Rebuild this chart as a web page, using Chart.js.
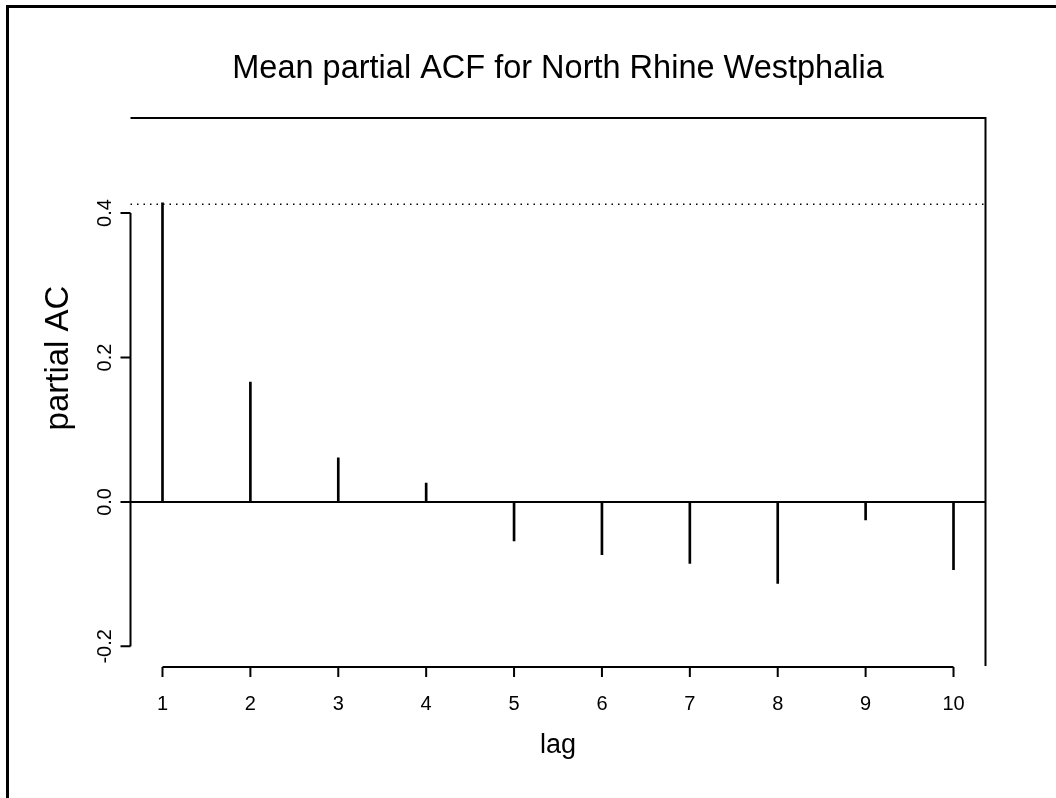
<!DOCTYPE html>
<html>
<head>
<meta charset="utf-8">
<script src="https://cdn.jsdelivr.net/npm/chart.js@4.4.0/dist/chart.umd.min.js"></script>
<style>
  body { margin: 0; background: #fff; }
  #wrap { width: 1056px; height: 798px; }
</style>
</head>
<body>
<div id="wrap"><canvas id="pacfChart" width="1056" height="798"></canvas></div>
<script>
// Data
const lags = [1, 2, 3, 4, 5, 6, 7, 8, 9, 10];
const pacf = [0.414, 0.166, 0.061, 0.026, -0.054, -0.073, -0.085, -0.113, -0.025, -0.094];
const xTicks = [1, 2, 3, 4, 5, 6, 7, 8, 9, 10];
const yTicks = [-0.2, 0.0, 0.2, 0.4];
const yTickLabels = ["-0.2", "0.0", "0.2", "0.4"];
const ciLine = 0.412;

const titleText = "Mean partial ACF for North Rhine Westphalia";
const xLabel = "lag";
const yLabel = "partial AC";
const FONT = "'Liberation Sans', Arial, Helvetica, sans-serif";

// R style axes, box and reference lines
const rStyle = {
    id: "rStyle",
    beforeDatasetsDraw(chart) {
        const ctx = chart.ctx;
        const area = chart.chartArea;
        const y = chart.scales.y;

        ctx.save();
        ctx.strokeStyle = "#000";
        ctx.lineWidth = 2;
        // zero line
        const y0 = y.getPixelForValue(0);
        ctx.beginPath();
        ctx.moveTo(area.left, y0);
        ctx.lineTo(area.right, y0);
        ctx.stroke();
        // dotted line
        const yc = y.getPixelForValue(ciLine);
        ctx.lineWidth = 1.5;
        ctx.setLineDash([1.5, 5]);
        ctx.beginPath();
        ctx.moveTo(area.left, yc);
        ctx.lineTo(area.right, yc);
        ctx.stroke();
        ctx.restore();
    },
    afterDraw(chart) {
        const ctx = chart.ctx;
        const area = chart.chartArea;
        const x = chart.scales.x;
        const y = chart.scales.y;

        ctx.save();
        ctx.strokeStyle = "#000";
        ctx.fillStyle = "#000";

        // outer border (only top and left show)
        ctx.lineWidth = 3;
        ctx.beginPath();
        ctx.moveTo(7.5, 798);
        ctx.lineTo(7.5, 6.5);
        ctx.lineTo(1056, 6.5);
        ctx.stroke();

        // box: top and right
        ctx.lineWidth = 2;
        ctx.beginPath();
        ctx.moveTo(area.left, area.top);
        ctx.lineTo(area.right, area.top);
        ctx.lineTo(area.right, area.bottom - 1);
        ctx.stroke();

        // x axis
        const xa = area.bottom;
        ctx.beginPath();
        ctx.moveTo(x.getPixelForValue(xTicks[0]), xa);
        ctx.lineTo(x.getPixelForValue(xTicks[xTicks.length - 1]), xa);
        xTicks.forEach(t => {
            const px = x.getPixelForValue(t);
            ctx.moveTo(px, xa);
            ctx.lineTo(px, xa + 10);
        });
        ctx.stroke();

        // y axis
        const ya = area.left;
        ctx.beginPath();
        ctx.moveTo(ya, y.getPixelForValue(yTicks[0]));
        ctx.lineTo(ya, y.getPixelForValue(yTicks[yTicks.length - 1]));
        yTicks.forEach(t => {
            const py = y.getPixelForValue(t);
            ctx.moveTo(ya, py);
            ctx.lineTo(ya - 10, py);
        });
        ctx.stroke();

        // tick labels
        ctx.font = "20px " + FONT;
        ctx.textAlign = "center";
        ctx.textBaseline = "alphabetic";
        xTicks.forEach(t => {
            ctx.fillText(String(t), x.getPixelForValue(t), xa + 43);
        });
        yTicks.forEach((t, i) => {
            ctx.save();
            ctx.translate(ya - 19.5, y.getPixelForValue(t));
            ctx.rotate(-Math.PI / 2);
            ctx.fillText(yTickLabels[i], 0, 0);
            ctx.restore();
        });

        // axis titles
        const cx = (area.left + area.right) / 2;
        ctx.font = "27px " + FONT;
        ctx.fillText(xLabel, cx, 753);
        ctx.save();
        ctx.font = "33px " + FONT;
        ctx.translate(68, 358);
        ctx.rotate(-Math.PI / 2);
        ctx.fillText(yLabel, 0, 0);
        ctx.restore();

        // main title
        ctx.font = "32.5px " + FONT;
        ctx.fillText(titleText, cx, 78);
        ctx.restore();
    }
};

const ctx = document.getElementById("pacfChart").getContext("2d");
new Chart(ctx, {
    type: "bar",
    data: {
        datasets: [{
            label: "partial AC",
            data: lags.map((l, i) => ({ x: l, y: pacf[i] })),
            backgroundColor: "#000",
            borderWidth: 0,
            barThickness: 2
        }]
    },
    options: {
        responsive: false,
        animation: false,
        layout: { padding: { left: 130.5, top: 118, right: 70.5, bottom: 131 } },
        plugins: {
            legend: { display: false },
            title: { display: false },
            tooltip: { enabled: false }
        },
        scales: {
            x: { type: "linear", offset: false, min: 0.636, max: 10.364, display: false },
            y: { type: "linear", min: -0.2286, max: 0.5316, display: false }
        }
    },
    plugins: [rStyle]
});
</script>
</body>
</html>
